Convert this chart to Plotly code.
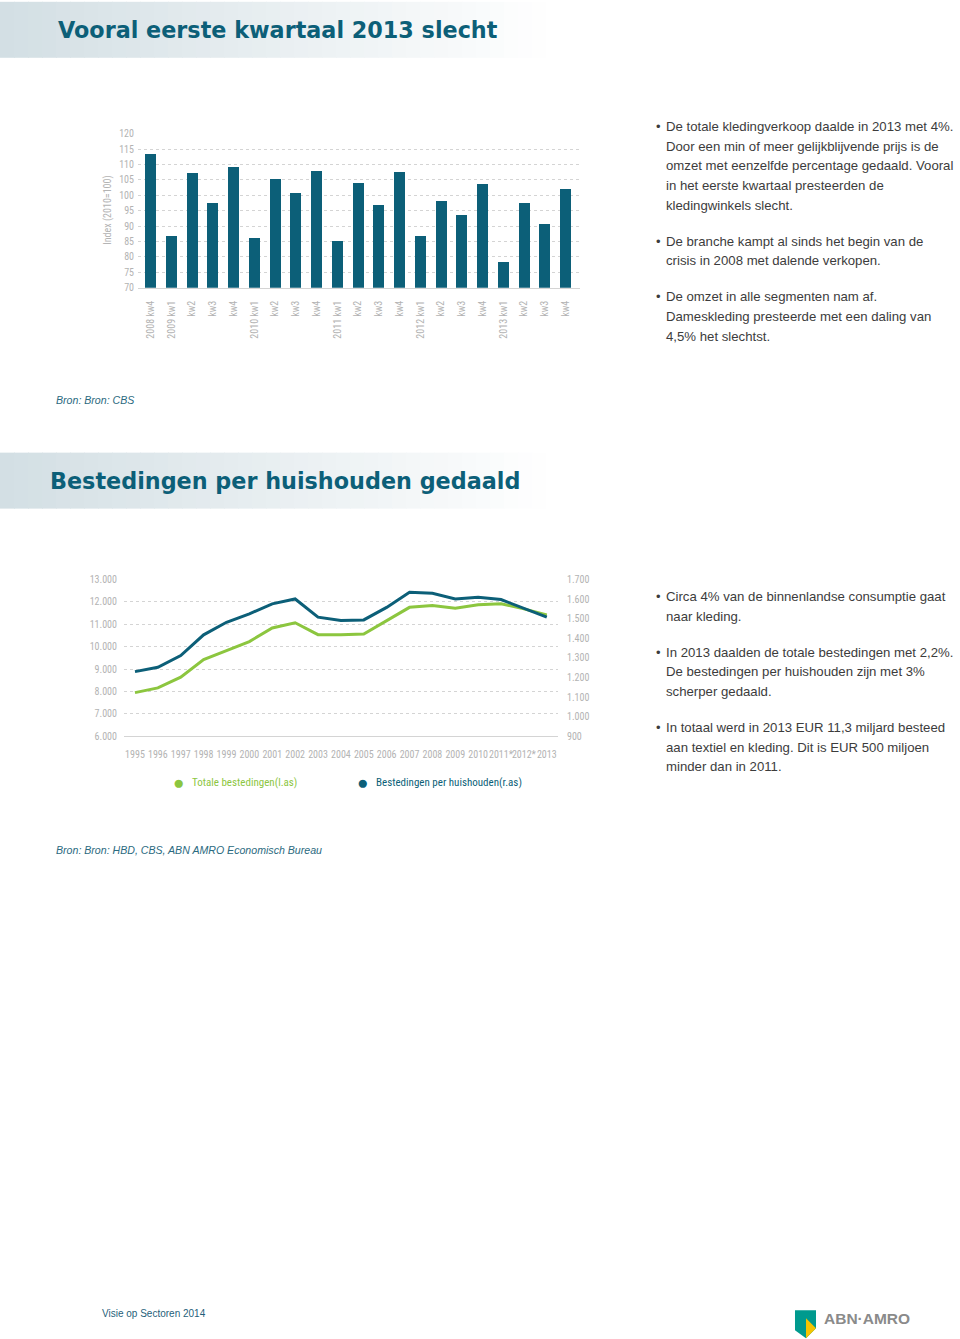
"""Kleding: kwartaalindex + bestedingen per huishouden (ABN AMRO Visie op Sectoren 2014)."""

import plotly.graph_objects as go

W, H = 960, 1339

TEAL = "#0c5f78"
GREEN = "#8cc63f"
GRID = "#d4d4d4"
MUTED = "#b3b3b3"
TEXT = "#3c3c3c"
TICK_FONT = "Liberation Sans Narrow, Roboto Condensed, Roboto, sans-serif"

# --- data: kwartaalindex omzet kledingwinkels (2010 = 100)
bar_labels = [
    "2008 kw4", "2009 kw1", "kw2", "kw3", "kw4",
    "2010 kw1", "kw2", "kw3", "kw4",
    "2011 kw1", "kw2", "kw3", "kw4",
    "2012 kw1", "kw2", "kw3", "kw4",
    "2013 kw1", "kw2", "kw3", "kw4",
]
bar_values = [
    113.4, 86.9, 107.3, 97.7, 109.3,
    86.3, 105.3, 101.0, 107.9,
    85.3, 104.2, 97.1, 107.7,
    86.8, 98.4, 93.7, 103.8,
    78.3, 97.5, 90.9, 102.3,
]

# --- data: bestedingen aan textiel en kleding
years = list(range(1995, 2014))
year_labels = [str(y) for y in range(1995, 2011)] + ["2011*", "2012*", "2013"]
total_spend = [7950, 8160, 8640, 9430, 9830, 10230, 10840, 11070, 10540, 10530,
               10570, 11170, 11760, 11840, 11720, 11880, 11920, 11690, 11420]
per_household = [1230, 1252, 1312, 1418, 1482, 1525, 1576, 1601, 1508, 1491,
                 1494, 1558, 1635, 1630, 1601, 1610, 1598, 1555, 1508]

bullets_top = [
    ["De totale kledingverkoop daalde in 2013 met 4%.",
     "Door een min of meer gelijkblijvende prijs is de",
     "omzet met eenzelfde percentage gedaald. Vooral",
     "in het eerste kwartaal presteerden de",
     "kledingwinkels slecht."],
    ["De branche kampt al sinds het begin van de",
     "crisis in 2008 met dalende verkopen."],
    ["De omzet in alle segmenten nam af.",
     "Dameskleding presteerde met een daling van",
     "4,5% het slechtst."],
]
bullets_bottom = [
    ["Circa 4% van de binnenlandse consumptie gaat",
     "naar kleding."],
    ["In 2013 daalden de totale bestedingen met 2,2%.",
     "De bestedingen per huishouden zijn met 3%",
     "scherper gedaald."],
    ["In totaal werd in 2013 EUR 11,3 miljard besteed",
     "aan textiel en kleding. Dit is EUR 500 miljoen",
     "minder dan in 2011."],
]

# the photographed page comes out slightly squeezed vertically; correct for it
Y_OFF, Y_SCALE = 5.2, 0.9914


def px(x):
    return x / W


def py(y):
    return 1 - ((y - Y_OFF) / Y_SCALE) / H


def gradient_band(fig, y0, y1, x1=560, steps=40, start=(211, 223, 228)):
    # fade from light blue-grey on the left to white on the right
    for i in range(steps):
        t = i / (steps - 1)
        r, g, b = (round(c + (255 - c) * t) for c in start)
        fig.add_shape(
            type="rect", xref="paper", yref="paper",
            x0=px(x1 * i / steps), x1=px(x1 * (i + 1) / steps) + 0.001,
            y0=py(y1), y1=py(y0),
            fillcolor=f"rgb({r},{g},{b})", line_width=0, layer="below",
        )


def add_text(fig, x, y, text, size=13.2, color=TEXT, family="Liberation Sans, Arial, sans-serif", **kw):
    fig.add_annotation(
        x=px(x), y=py(y), xref="paper", yref="paper", text=text, showarrow=False,
        xanchor=kw.pop("xanchor", "left"), yanchor=kw.pop("yanchor", "middle"),
        font=dict(size=size, color=color, family=family), **kw,
    )


def add_bullets(fig, paragraphs, y_start, line_h=19.6, para_gap=16.5):
    y = y_start
    for para in paragraphs:
        add_text(fig, 654, y, "•", size=13)
        for line in para:
            add_text(fig, 664, y, line)
            y += line_h
        y += para_gap


fig = go.Figure()

fig.add_trace(
    go.Bar(
        x=list(range(len(bar_values))), y=bar_values,
        marker=dict(color=TEAL, line_width=0), width=0.53,
        xaxis="x", yaxis="y", showlegend=False,
    )
)
fig.add_trace(
    go.Scatter(
        x=years, y=total_spend, mode="lines", name="Totale bestedingen(l.as)",
        line=dict(color=GREEN, width=3), xaxis="x2", yaxis="y2", showlegend=False,
    )
)
fig.add_trace(
    go.Scatter(
        x=years, y=per_household, mode="lines", name="Bestedingen per huishouden(r.as)",
        line=dict(color=TEAL, width=3), xaxis="x2", yaxis="y3", showlegend=False,
    )
)

tickfont = dict(family=TICK_FONT, size=10, color=MUTED)

fig.update_layout(
    width=W, height=H,
    margin=dict(l=0, r=0, t=0, b=0),
    paper_bgcolor="white", plot_bgcolor="white",
    separators=",.",
    bargap=0,
    xaxis=dict(
        domain=[px(138), px(580)], anchor="y",
        range=[-0.61, len(bar_values) - 0.31],
        tickvals=list(range(len(bar_labels))), ticktext=bar_labels,
        tickangle=-90, tickfont=tickfont, ticklabelstandoff=8,
        showgrid=False, zeroline=False, showline=True, linecolor=GRID, linewidth=1,
        fixedrange=True,
    ),
    yaxis=dict(
        domain=[py(287), py(133)], anchor="x",
        range=[70, 120], dtick=5, tickfont=tickfont,
        showgrid=True, gridcolor=GRID, griddash="dot", gridwidth=1,
        zeroline=False, showline=False, ticklabelstandoff=3,
    ),
    xaxis2=dict(
        domain=[px(124), px(558)], anchor="y2",
        range=[1994.52, 2013.49],
        tickvals=years, ticktext=year_labels, tickangle=0,
        tickfont=tickfont, ticklabelstandoff=9,
        showgrid=False, zeroline=False, showline=True, linecolor=GRID, linewidth=1,
    ),
    yaxis2=dict(
        domain=[py(735.7), py(579)], anchor="x2",
        range=[6000, 13000], dtick=1000, tickformat=",d", tickfont=tickfont,
        showgrid=True, gridcolor=GRID, griddash="dot", gridwidth=1,
        zeroline=False, showline=False, ticklabelstandoff=6,
    ),
    yaxis3=dict(
        overlaying="y2", anchor="x2", side="right",
        range=[900, 1700], dtick=100, tickformat=",d", tickfont=tickfont,
        showgrid=False, zeroline=False, showline=False, ticklabelstandoff=8,
    ),
)

# header bands
gradient_band(fig, 1, 57)
gradient_band(fig, 452, 508)
title_font = "DejaVu Sans, Verdana, sans-serif"
fig.add_annotation(
    x=px(56), y=py(29), xref="paper", yref="paper", showarrow=False,
    text="<b>Vooral eerste kwartaal 2013 slecht</b>", xanchor="left", yanchor="middle",
    font=dict(size=22.3, color=TEAL, family=title_font),
)
fig.add_annotation(
    x=px(48), y=py(480), xref="paper", yref="paper", showarrow=False,
    text="<b>Bestedingen per huishouden gedaald</b>", xanchor="left", yanchor="middle",
    font=dict(size=22.3, color=TEAL, family=title_font),
)

# axis title bar chart
fig.add_annotation(
    x=px(108), y=py(210), xref="paper", yref="paper", showarrow=False,
    text="Index (2010=100)", textangle=-90, xanchor="center", yanchor="middle",
    font=dict(size=10, color=MUTED, family=TICK_FONT),
)

# legend line chart
add_text(fig, 178, 782, "●", size=19, color=GREEN, xanchor="center")
add_text(fig, 190, 782, "Totale bestedingen(l.as)", size=11, color=GREEN, family=TICK_FONT)
add_text(fig, 362, 782, "●", size=19, color=TEAL, xanchor="center")
add_text(fig, 374, 782, "Bestedingen per huishouden(r.as)", size=11, color=TEAL, family=TICK_FONT)

# bullet texts
add_bullets(fig, bullets_top, 126)
add_bullets(fig, bullets_bottom, 596)

# sources
src_font = "Liberation Sans, Arial, sans-serif"
fig.add_annotation(
    x=px(54), y=py(399), xref="paper", yref="paper", showarrow=False,
    text="<i>Bron: Bron: CBS</i>", xanchor="left", yanchor="middle",
    font=dict(size=10.6, color="#2b6a80", family=src_font),
)
fig.add_annotation(
    x=px(54), y=py(850), xref="paper", yref="paper", showarrow=False,
    text="<i>Bron: Bron: HBD, CBS, ABN AMRO Economisch Bureau</i>", xanchor="left", yanchor="middle",
    font=dict(size=10.6, color="#2b6a80", family=src_font),
)

# footer
add_text(fig, 100, 1313, "Visie op Sectoren 2014", size=10, color="#1f5f7a")


def path(points):
    return "M " + " L ".join(f"{px(x):.5f},{py(y):.5f}" for x, y in points) + " Z"


fig.add_shape(type="path", xref="paper", yref="paper", line_width=0, fillcolor="#009a8e",
              path=path([(795, 1310), (816, 1310), (816, 1328), (806, 1338), (795, 1330)]))
fig.add_shape(type="path", xref="paper", yref="paper", line_width=0, fillcolor="#f5c400",
              path=path([(806, 1318), (816, 1328), (806, 1338)]))
fig.add_annotation(
    x=px(822), y=py(1318), xref="paper", yref="paper", showarrow=False,
    text="<b>ABN·AMRO</b>", xanchor="left", yanchor="middle",
    font=dict(size=15.5, color="#8a8a8a", family="Liberation Sans, Arial, sans-serif"),
)

# pin the graph to the window's top-left corner (no body margin, no scrollbars)
pin = (
    "var d = document.getElementById('{plot_id}');"
    "d.style.position = 'absolute'; d.style.left = '0px'; d.style.top = '0px';"
    "document.body.style.margin = '0';"
    "document.documentElement.style.overflow = 'hidden';"
)
fig.write_html("out.html", config={"displayModeBar": False}, post_script=pin)
